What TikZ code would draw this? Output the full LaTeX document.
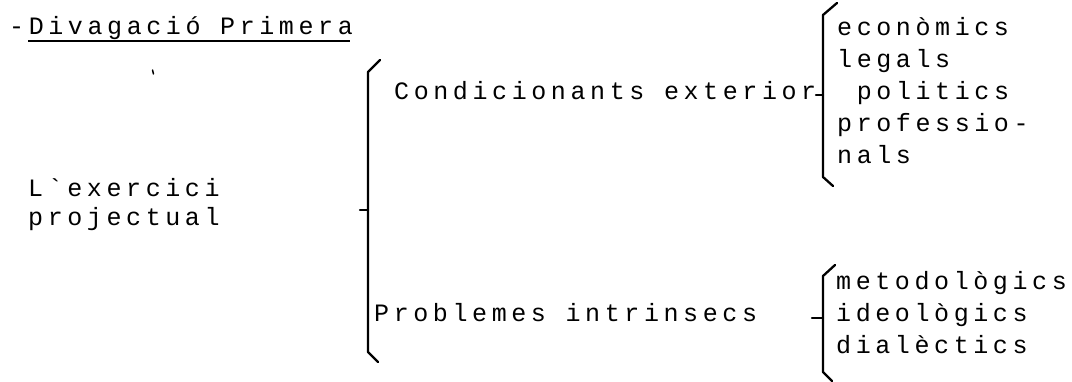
\documentclass[tikz,border=0pt]{standalone}
\usepackage{fontspec}
\newfontfamily\dm[LetterSpace=18.4]{Liberation Mono}
\begin{document}
\begin{tikzpicture}[x=1pt,y=-1pt,
  txt/.style={anchor=base west,inner sep=0pt,font=\dm\fontsize{25}{25}\selectfont},
  brk/.style={line width=2.3pt,line cap=round,line join=round}]
\useasboundingbox (0,0) rectangle (1072,382);
% title
\node[txt] (title) at (9,35) {-Divagació Primera};
\draw[line width=1.8pt] (28,41) -- (350,41);
\draw[line width=1.5pt,line cap=round] (152.5,70) -- (153.5,74);
% root
\node[txt] (root1) at (28,197) {L\char96 exercici};
\node[txt] (root2) at (28,226) {projectual};
% level 1
\node[txt] (cond) at (394,100) {Condicionants exterior};
\node[txt] (prob) at (374,322) {Problemes intrinsecs};
% level 2 upper
\node[txt] (eco) at (837,36) {econòmics};
\node[txt] (leg) at (837,68) {legals};
\node[txt] (pol) at (837,100) {\ politics};
\node[txt] (pro) at (837,132) {professio-};
\node[txt] (nal) at (837,164) {nals};
% level 2 lower
\node[txt] (met) at (836,290) {metodològics};
\node[txt] (ide) at (836,322) {ideològics};
\node[txt] (dia) at (836,354) {dialèctics};
% big bracket
\coordinate (b1tip) at (380,60);
\coordinate (b1top) at (368,72);
\coordinate (b1bot) at (368,352);
\coordinate (b1end) at (378,362);
\coordinate (b1mid) at (368,210);
\coordinate (b1tick) at (360,210);
\draw[brk] (b1tip) -- (b1top) -- (b1bot) -- (b1end);
\draw[brk] (b1tick) -- (b1mid);
% upper bracket
\coordinate (b2tip) at (837,3);
\coordinate (b2top) at (823,15);
\coordinate (b2bot) at (823,177);
\coordinate (b2end) at (833,186);
\coordinate (b2mid) at (823,95);
\coordinate (b2tick) at (816,95);
\draw[brk] (b2tip) -- (b2top) -- (b2bot) -- (b2end);
\draw[brk] (b2tick) -- (b2mid);
% lower bracket
\coordinate (b3tip) at (835,265);
\coordinate (b3top) at (823,276);
\coordinate (b3bot) at (823,372);
\coordinate (b3end) at (832,381);
\coordinate (b3mid) at (823,318);
\coordinate (b3tick) at (812,318);
\draw[brk] (b3tip) -- (b3top) -- (b3bot) -- (b3end);
\draw[brk] (b3tick) -- (b3mid);
\end{tikzpicture}
\end{document}
